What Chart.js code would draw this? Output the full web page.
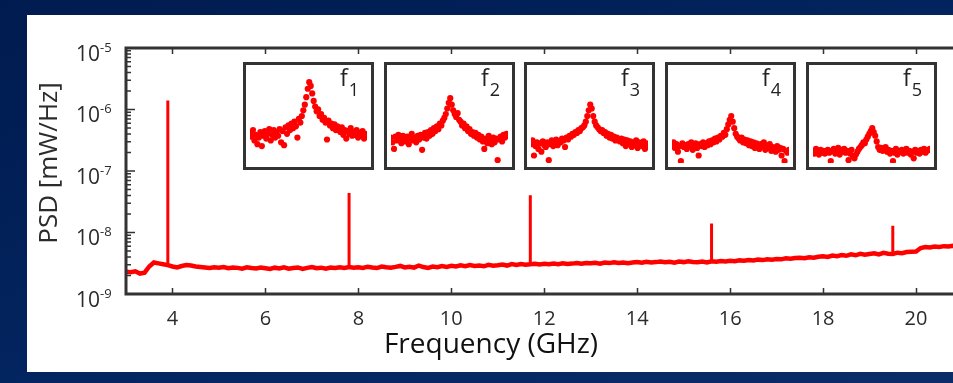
<!DOCTYPE html>
<html lang="en">
<head>
    <meta charset="UTF-8">
    <title>PSD spectrum</title>
    <style>
        html, body {
            margin: 0;
            width: 953px;
            height: 383px;
            overflow: hidden;
            background: linear-gradient(160deg, #001b4f 0%, #032560 55%, #0a2d68 100%);
            font-family: "Open Sans", sans-serif;
        }
        .panel {
            position: absolute;
            left: 27px;
            top: 15px;
            width: 950px;
            height: 357px;
            background: #fff;
        }
        .panel canvas.main {
            position: absolute;
            left: 0;
            top: 0;
        }
        .inset {
            position: absolute;
            top: 47px;
            width: 131px;
            height: 108px;
            box-sizing: border-box;
            border: 3px solid #333;
            background: #fff;
        }
        .inset canvas {
            position: absolute;
            left: 0;
            top: 0;
        }
        .inset .lbl {
            position: absolute;
            right: 12px;
            top: 1px;
            font-size: 23px;
            line-height: 1;
            color: #222;
            white-space: nowrap;
        }
        .inset .lbl sub {
            font-size: 18px;
            vertical-align: baseline;
            position: relative;
            top: 10px;
            margin-left: 1px;
        }
    </style>
</head>
<body>
    <div class="panel" id="panel">
        <canvas class="main" id="psdChart" width="950" height="357"></canvas>
    </div>
    <script src="https://cdn.jsdelivr.net/npm/chart.js"></script>
    <script>
        // main spectrum: noise floor sampled every 0.1 GHz from 3.0 GHz, in units of 1e-9 mW/Hz
        const noiseStartGHz = 3.0;
        const noiseStepGHz = 0.1;
        const noiseFloor = [
            2.30, 2.26, 2.34, 2.15, 2.22, 2.80, 3.25, 3.15, 3.05, 2.95,
            2.80, 2.70, 2.85, 2.95, 2.90, 2.80, 2.75, 2.70, 2.65, 2.72,
            2.68, 2.75, 2.62, 2.70, 2.66, 2.58, 2.72, 2.64, 2.60, 2.70,
            2.62, 2.55, 2.68, 2.60, 2.72, 2.58, 2.64, 2.70, 2.56, 2.66,
            2.75, 2.62, 2.68, 2.58, 2.70, 2.64, 2.72, 2.66, 2.74, 2.68,
            2.72, 2.66, 2.78, 2.70, 2.64, 2.80, 2.72, 2.68, 2.76, 2.86,
            2.70, 2.78, 2.68, 2.90, 2.74, 2.66, 2.80, 2.72, 2.84, 2.76,
            2.88, 2.80, 2.92, 2.84, 2.96, 2.86, 2.90, 2.82, 2.98, 2.88,
            2.94, 3.02, 2.90, 3.06, 2.96, 3.08, 3.00, 3.04, 3.10, 3.02,
            3.10, 3.04, 3.14, 3.06, 3.16, 3.08, 3.12, 3.20, 3.10, 3.18,
            3.16, 3.22, 3.12, 3.24, 3.18, 3.28, 3.20, 3.26, 3.16, 3.24,
            3.30, 3.22, 3.34, 3.26, 3.30, 3.38, 3.28, 3.34, 3.24, 3.36,
            3.30, 3.40, 3.32, 3.28, 3.36, 3.26, 3.40, 3.34, 3.44, 3.38,
            3.46, 3.40, 3.52, 3.48, 3.58, 3.50, 3.62, 3.56, 3.68, 3.60,
            3.70, 3.66, 3.80, 3.74, 3.86, 3.90, 3.82, 3.96, 3.88, 4.02,
            4.10, 4.00, 4.22, 4.12, 4.30, 4.18, 4.42, 4.26, 4.50, 4.34,
            4.46, 4.60, 4.40, 4.66, 4.52, 4.48, 4.70, 4.62, 4.80, 4.86,
            4.90, 5.60, 5.80, 5.70, 5.90, 5.82, 6.00, 5.92, 6.10, 6.02,
            6.15
        ];

        // harmonic lines
        const spikeFreqs = [3.9, 7.8, 11.7, 15.6, 19.5];
        const spikePeaks = [1.4e-6, 4.4e-8, 4.05e-8, 1.4e-8, 1.29e-8];
        const spikeBases = [2.9e-9, 2.7e-9, 3.05e-9, 3.4e-9, 4.5e-9];

        const xTicks = [4, 6, 8, 10, 12, 14, 16, 18, 20];
        const yDecades = [-9, -8, -7, -6, -5];

        // zoomed peaks (relative level, 0 = box bottom, 100 = box top)
        const insetNames = ['1', '2', '3', '4', '5'];
        const inset1 = [
            32, 28, 35, 24, 30, 20, 27, 33, 18, 29,
            34, 26, 31, 36, 24, 30, 35, 27, 33, 29,
            36, 22, 34, 19, 38, 31, 40, 35, 42, 37,
            44, 39, 27, 47, 43, 50, 56, 62, 70, 79,
            86, 82, 74, 66, 60, 55, 57, 50, 52, 46,
            48, 43, 25, 45, 40, 42, 37, 41, 35, 39,
            36, 33, 38, 30, 35, 26, 34, 31, 37, 29,
            33, 30, 35, 27, 32, 29, 34, 26, 31, 28
        ];
        const inset2 = [
            27, 22, 15, 28, 24, 30, 26, 21, 29, 25,
            23, 28, 20, 26, 31, 24, 27, 22, 29, 25,
            30, 14, 27, 32, 26, 33, 29, 35, 31, 37,
            34, 39, 36, 42, 40, 45, 48, 52, 58, 64,
            69, 62, 56, 52, 49, 53, 46, 44, 40, 42,
            37, 39, 34, 36, 31, 33, 29, 32, 27, 30,
            25, 28, 23, 15, 26, 21, 29, 24, 20, 27,
            22, 26, 3, 25, 28, 23, 30, 27, 31, 29
        ];
        const inset3 = [
            20, 24, 8, 18, 22, 15, 21, 12, 23, 19,
            17, 22, 3, 20, 24, 18, 21, 25, 19, 23,
            22, 26, 24, 17, 27, 25, 29, 28, 31, 30,
            33, 32, 35, 34, 37, 38, 40, 44, 50, 56,
            62, 58, 50, 44, 40, 38, 36, 34, 35, 32,
            33, 29, 31, 27, 30, 26, 28, 24, 27, 25,
            23, 26, 21, 25, 18, 24, 20, 23, 17, 22,
            19, 24, 16, 22, 20, 18, 23, 15, 21, 17
        ];
        const inset4 = [
            19, 22, 16, 20, 12, 18, 2, 21, 17, 19,
            15, 20, 18, 22, 14, 19, 21, 16, 8, 20,
            18, 22, 17, 21, 19, 23, 20, 24, 22, 26,
            23, 27, 25, 29, 28, 32, 30, 36, 41, 46,
            50, 44, 37, 31, 28, 26, 24, 27, 22, 25,
            21, 24, 19, 23, 18, 22, 16, 21, 19, 15,
            20, 17, 22, 14, 18, 16, 20, 13, 17, 15,
            12, 18, 14, 16, 8, 15, 2, 13, 11, 14
        ];
        const inset5 = [
            13, 10, 15, 12, 9, 14, 11, 13, 10, 12,
            14, 11, 2, 13, 15, 10, 12, 16, 9, 14,
            12, 15, 11, 13, 3, 10, 14, 7, 5, 9,
            12, 15, 17, 19, 22, 21, 25, 28, 31, 34,
            37, 33, 29, 23, 17, 14, 16, 13, 15, 17,
            12, 14, 10, 13, 2, 11, 15, 9, 13, 12,
            14, 10, 12, 15, 11, 13, 9, 12, 5, 14,
            11, 13, 10, 14, 12, 15, 11, 13, 14, 15
        ];
        const insetData = [inset1, inset2, inset3, inset4, inset5];

        const RED = '#ff0000';
        const INK = '#2b2b2b';
        const FONT = '"Open Sans", sans-serif';

        const noiseData = noiseFloor.map((v, i) => ({ x: noiseStartGHz + i * noiseStepGHz, y: v * 1e-9 }));
        const spikeData = [];
        spikeFreqs.forEach((f, i) => {
            spikeData.push({ x: f, y: spikeBases[i] });
            spikeData.push({ x: f, y: spikePeaks[i] });
            spikeData.push({ x: f, y: null });
        });

        // axis box, inward ticks and log labels like the original figure
        const framePlugin = {
            id: 'frame',
            afterDraw(chart) {
                const { ctx, chartArea: a, scales: { x, y } } = chart;
                ctx.save();
                ctx.strokeStyle = '#333';
                ctx.lineWidth = 1.5;
                ctx.beginPath();
                xTicks.forEach(v => {
                    const px = Math.round(x.getPixelForValue(v)) + 0.5;
                    ctx.moveTo(px, a.bottom); ctx.lineTo(px, a.bottom - 6);
                    ctx.moveTo(px, a.top); ctx.lineTo(px, a.top + 6);
                });
                yDecades.forEach(k => {
                    const py = y.getPixelForValue(Math.pow(10, k));
                    ctx.moveTo(a.left, py); ctx.lineTo(a.left + 9, py);
                    if (k < -5) {
                        for (let m = 2; m <= 9; m++) {
                            const pm = y.getPixelForValue(m * Math.pow(10, k));
                            ctx.moveTo(a.left, pm); ctx.lineTo(a.left + 5, pm);
                        }
                    }
                });
                ctx.stroke();

                ctx.lineWidth = 3;
                ctx.lineCap = 'square';
                ctx.beginPath();
                ctx.moveTo(chart.width, a.top);
                ctx.lineTo(a.left, a.top);
                ctx.lineTo(a.left, a.bottom);
                ctx.lineTo(chart.width, a.bottom);
                ctx.stroke();

                ctx.fillStyle = INK;
                ctx.textBaseline = 'middle';
                yDecades.forEach(k => {
                    const py = y.getPixelForValue(Math.pow(10, k));
                    ctx.font = '21px ' + FONT;
                    ctx.textAlign = 'right';
                    ctx.fillText('10', a.left - 26, py + 7);
                    ctx.font = '13px ' + FONT;
                    ctx.textAlign = 'left';
                    ctx.fillText(String(k), a.left - 26, py);
                });

                ctx.font = '28px ' + FONT;
                ctx.textAlign = 'center';
                ctx.fillStyle = '#111';
                ctx.fillText('Frequency (GHz)', 464, 330);

                ctx.fillStyle = INK;
                ctx.translate(23, 148);
                ctx.rotate(-Math.PI / 2);
                ctx.font = '26px ' + FONT;
                ctx.fillText('PSD [mW/Hz]', 0, 0);
                ctx.restore();
            }
        };

        new Chart(document.getElementById('psdChart'), {
            type: 'line',
            data: {
                datasets: [
                    {
                        data: noiseData,
                        borderColor: RED,
                        borderWidth: 4.5,
                        pointRadius: 0,
                        tension: 0,
                        fill: false
                    },
                    {
                        data: spikeData,
                        borderColor: RED,
                        borderWidth: 3,
                        pointRadius: 0,
                        tension: 0,
                        spanGaps: false,
                        fill: false
                    }
                ]
            },
            options: {
                responsive: false,
                animation: false,
                devicePixelRatio: 1,
                layout: { padding: { top: 33, right: 14.5, bottom: 0, left: 0 } },
                plugins: { legend: { display: false }, tooltip: { enabled: false } },
                scales: {
                    x: {
                        type: 'linear',
                        min: 3,
                        max: 21,
                        afterBuildTicks: s => { s.ticks = xTicks.map(v => ({ value: v })); },
                        afterFit: s => { s.height = 78; },
                        grid: { display: false, drawTicks: false },
                        border: { display: false },
                        ticks: { color: INK, padding: 13, font: { family: FONT, size: 20 } }
                    },
                    y: {
                        type: 'logarithmic',
                        min: 1e-9,
                        max: 1e-5,
                        afterFit: s => { s.width = 99; },
                        grid: { display: false, drawTicks: false },
                        border: { display: false },
                        ticks: { display: false }
                    }
                }
            },
            plugins: [framePlugin]
        });

        // the five zoomed peaks
        const panel = document.getElementById('panel');
        const insetLefts = [216, 357, 497, 638, 779];
        insetData.forEach((vals, n) => {
            const box = document.createElement('div');
            box.className = 'inset';
            box.style.left = insetLefts[n] + 'px';
            const cv = document.createElement('canvas');
            cv.width = 125;
            cv.height = 102;
            box.appendChild(cv);
            const lbl = document.createElement('div');
            lbl.className = 'lbl';
            lbl.innerHTML = 'f<sub>' + insetNames[n] + '</sub>';
            box.appendChild(lbl);
            panel.appendChild(box);

            new Chart(cv, {
                type: 'scatter',
                data: {
                    datasets: [{
                        data: vals.map((v, i) => ({ x: i, y: v })),
                        pointRadius: 3.1,
                        pointBackgroundColor: RED,
                        pointBorderWidth: 0
                    }]
                },
                options: {
                    responsive: false,
                    animation: false,
                    devicePixelRatio: 1,
                    layout: { padding: 0 },
                    plugins: { legend: { display: false }, tooltip: { enabled: false } },
                    scales: {
                        x: { display: false, min: 0, max: vals.length - 1 },
                        y: { display: false, min: 0, max: 100 }
                    }
                }
            });
        });
    </script>
</body>
</html>
